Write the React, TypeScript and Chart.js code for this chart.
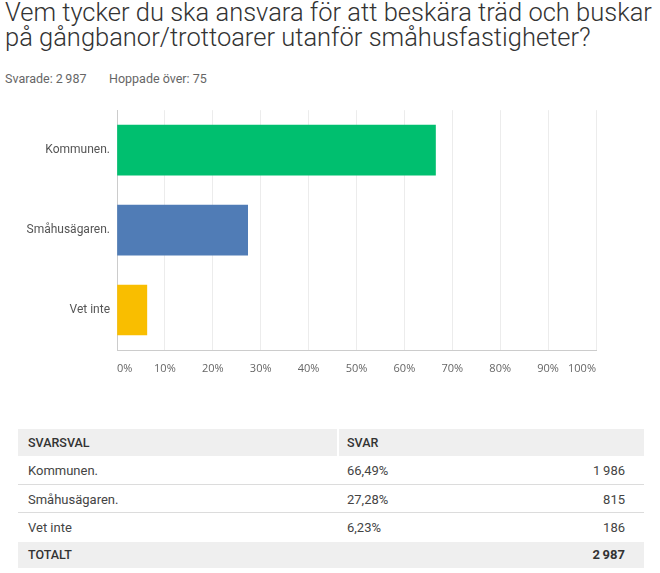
import React, { useEffect, useRef } from "react";
import { Chart, registerables } from "chart.js";

Chart.register(...registerables);

const titleLines = [
  "Vem tycker du ska ansvara för att beskära träd och buskar",
  "på gångbanor/trottoarer utanför småhusfastigheter?",
];
const answered = 2987;
const skipped = 75;
const categories = ["Kommunen.", "Småhusägaren.", "Vet inte"];
const percentages = [66.49, 27.28, 6.23];
const counts = [1986, 815, 186];
const barColors = ["#00BF6F", "#507CB6", "#F9BE00"];
const tickMax = 100;
const tickStep = 10;

const fmtInt = (n: number) => String(n).replace(/\B(?=(\d{3})+(?!\d))/g, "\u2009");
const fmtPct = (n: number) => n.toFixed(2).replace(".", ",") + "%";

const FONT = "Roboto, 'Noto Sans', sans-serif";

export default function App() {
  const canvasRef = useRef<HTMLCanvasElement | null>(null);

  useEffect(() => {
    const ctx = canvasRef.current;
    if (!ctx) return;
    const chart = new Chart(ctx, {
      type: "bar",
      data: {
        labels: categories,
        datasets: [
          {
            data: percentages,
            backgroundColor: barColors,
            borderWidth: 0,
            barThickness: 50,
          },
        ],
      },
      options: {
        indexAxis: "y",
        animation: false,
        responsive: false,
        maintainAspectRatio: false,
        layout: { padding: { left: 0, right: 14, top: 0, bottom: 0 } },
        plugins: {
          legend: { display: false },
          tooltip: { enabled: false },
        },
        scales: {
          x: {
            min: 0,
            max: tickMax,
            ticks: {
              stepSize: tickStep,
              align: "inner",
              padding: 12,
              color: "#666",
              font: { family: "'Open Sans', sans-serif", size: 11 },
              callback: (v: any) => v + "%",
            },
            grid: { color: "#ececec", drawTicks: false },
            border: { display: true, color: "#cccccc" },
            afterFit: (s: any) => {
              s.height = 40;
            },
          },
          y: {
            ticks: {
              padding: 7,
              color: "#555",
              font: { family: FONT, size: 12 },
            },
            grid: { display: false, drawTicks: false },
            border: { display: true, color: "#cccccc" },
            afterFit: (s: any) => {
              s.width = 117;
            },
          },
        },
      },
    });
    return () => chart.destroy();
  }, []);

  const cellBase: React.CSSProperties = {
    position: "absolute",
    fontFamily: FONT,
    fontSize: 13,
    color: "#444",
    lineHeight: "16px",
  };

  const rows = categories.map((c, i) => ({
    label: c,
    pct: fmtPct(percentages[i]),
    count: fmtInt(counts[i]),
  }));
  const rowTops = [456, 485, 513];
  const rowHeights = [29, 28, 29];
  const total = counts.reduce((a, b) => a + b, 0);

  return (
    <div
      style={{
        position: "absolute",
        left: 0,
        top: 0,
        width: 660,
        height: 573,
        background: "#fff",
        overflow: "hidden",
      }}
    >
      <div
        style={{
          position: "absolute",
          left: 5,
          top: 0,
          fontFamily: FONT,
          fontWeight: 300,
          fontSize: 25.5,
          lineHeight: "25px",
          color: "#333",
          whiteSpace: "nowrap",
        }}
      >
        {titleLines.map((l, i) => (
          <div key={i}>{l}</div>
        ))}
      </div>
      <div
        style={{
          position: "absolute",
          left: 5,
          top: 71,
          fontFamily: FONT,
          fontSize: 12.5,
          color: "#666",
          whiteSpace: "nowrap",
        }}
      >
        Svarade: {fmtInt(answered)}
      </div>
      <div
        style={{
          position: "absolute",
          left: 109,
          top: 71,
          fontFamily: FONT,
          fontSize: 12.5,
          color: "#666",
          whiteSpace: "nowrap",
        }}
      >
        Hoppade över: {skipped}
      </div>

      <canvas
        ref={canvasRef}
        width={610}
        height={294}
        style={{ position: "absolute", left: 0, top: 96, width: 610, height: 294 }}
      />

      {/* table */}
      <div style={{ position: "absolute", left: 18, top: 429, width: 319, height: 27, background: "#efefef" }} />
      <div style={{ position: "absolute", left: 339, top: 429, width: 305, height: 27, background: "#efefef" }} />
      <div style={{ ...cellBase, left: 28, top: 435, fontWeight: 500, color: "#333", fontSize: 12.5 }}>SVARSVAL</div>
      <div style={{ ...cellBase, left: 347, top: 435, fontWeight: 500, color: "#333", fontSize: 12.5 }}>SVAR</div>

      {rows.map((r, i) => (
        <React.Fragment key={i}>
          <div
            style={{
              position: "absolute",
              left: 18,
              top: rowTops[i],
              width: 626,
              height: rowHeights[i] - 1,
              borderBottom: i < rows.length - 1 ? "1px solid #dcdcdc" : "none",
            }}
          />
          <div style={{ ...cellBase, left: 28, top: rowTops[i] + 7 }}>{r.label}</div>
          <div style={{ ...cellBase, left: 347, top: rowTops[i] + 7 }}>{r.pct}</div>
          <div style={{ ...cellBase, right: 660 - 625, top: rowTops[i] + 7, textAlign: "right" }}>{r.count}</div>
        </React.Fragment>
      ))}

      <div style={{ position: "absolute", left: 18, top: 542, width: 626, height: 26, background: "#efefef" }} />
      <div style={{ ...cellBase, left: 28, top: 547, fontWeight: 500, color: "#333", fontSize: 12.5 }}>TOTALT</div>
      <div style={{ ...cellBase, right: 660 - 625, top: 547, fontWeight: 700, color: "#333", textAlign: "right" }}>
        {fmtInt(total)}
      </div>
    </div>
  );
}
